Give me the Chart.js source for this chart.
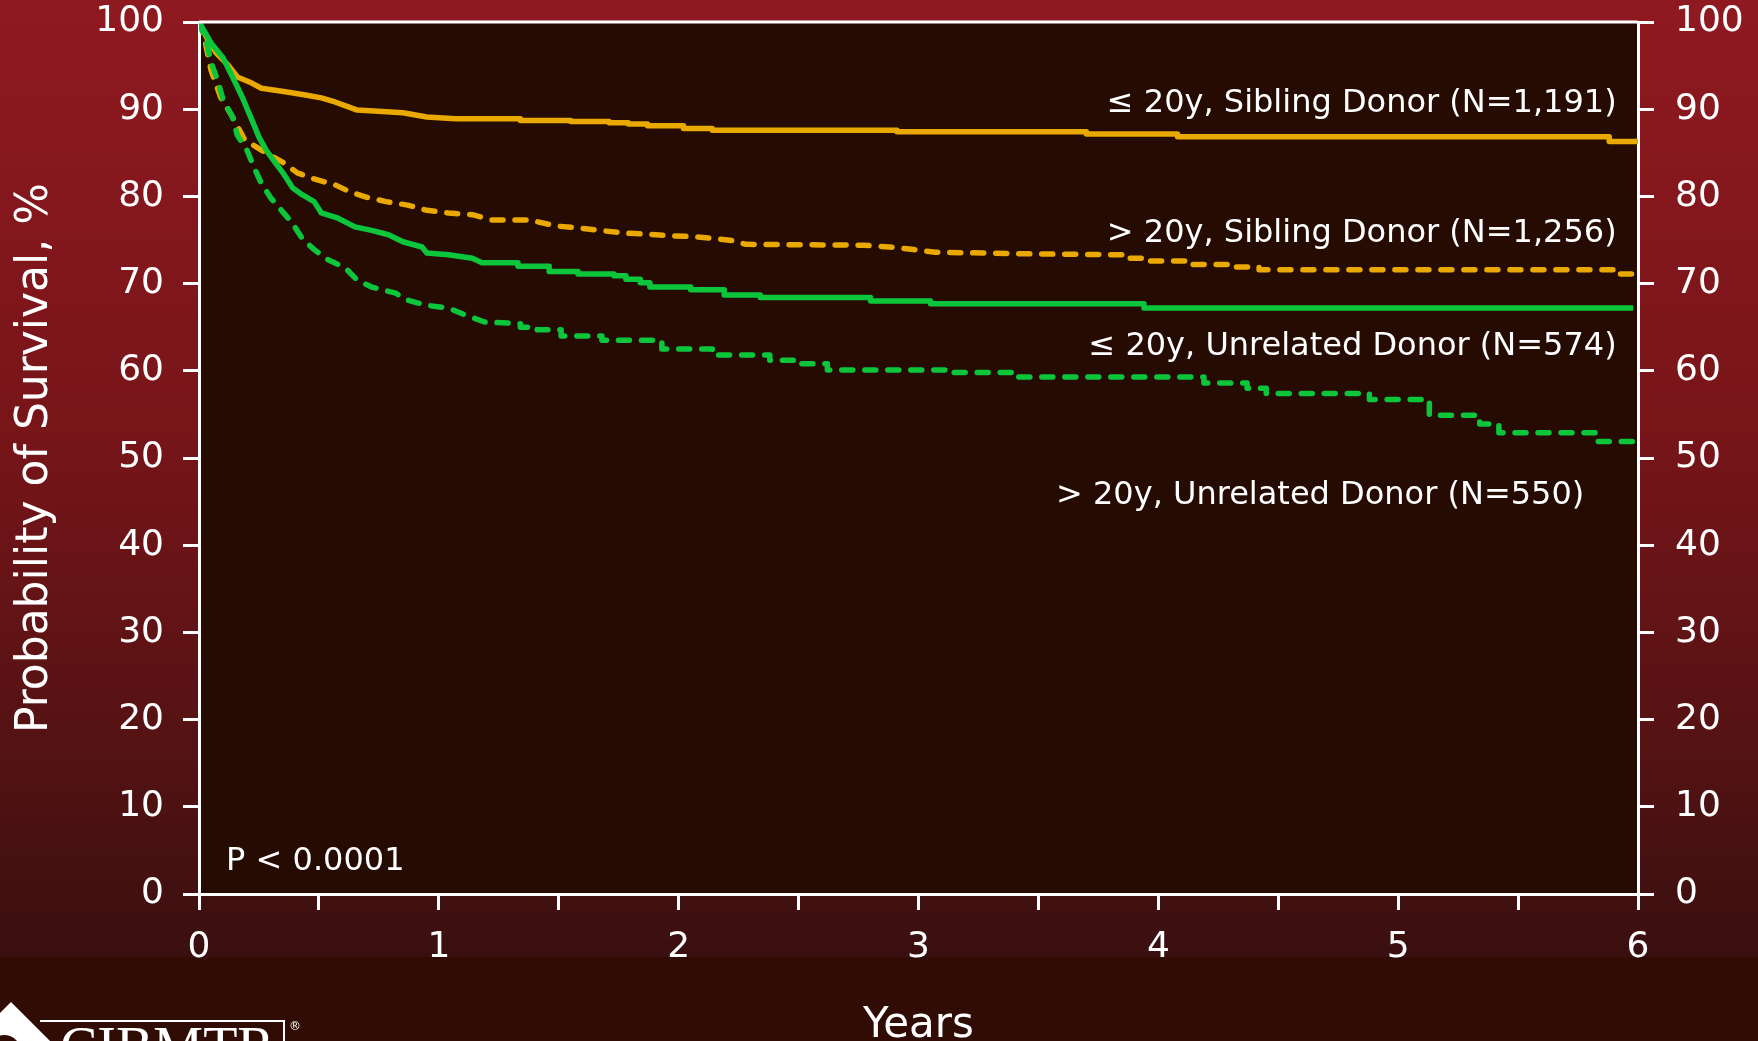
<!DOCTYPE html>
<html>
<head>
<meta charset="utf-8">
<script src="https://cdn.jsdelivr.net/npm/chart.js@4.4.1/dist/chart.umd.min.js"></script>
<style>
  html, body { margin: 0; padding: 0; background: #2f0c05; overflow: hidden; }
  canvas { display: block; }
</style>
</head>
<body>
<canvas id="km" width="1758" height="1041"></canvas>
<script>
// survival, % by years after transplant
const youngSibTime = [0, 0.04, 0.07, 0.12, 0.16, 0.22, 0.26, 0.36, 0.45, 0.51, 0.57, 0.62, 0.66, 0.85, 0.95, 1.07, 1.34, 1.34, 1.55, 1.55, 1.71, 1.71, 1.79, 1.79, 1.87, 1.87, 2.02, 2.02, 2.14, 2.14, 2.91, 2.91, 3.70, 3.70, 4.08, 4.08, 5.88, 5.88, 6.0];
const youngSibSurv = [100, 97.8, 96.5, 95.1, 93.7, 93.0, 92.4, 92.0, 91.6, 91.3, 90.8, 90.3, 89.9, 89.6, 89.1, 88.9, 88.9, 88.7, 88.7, 88.6, 88.6, 88.45, 88.45, 88.3, 88.3, 88.1, 88.1, 87.8, 87.8, 87.6, 87.6, 87.4, 87.4, 87.15, 87.15, 86.85, 86.85, 86.3, 86.3];

const oldSibTime = [0, 0.02, 0.05, 0.09, 0.14, 0.19, 0.26, 0.35, 0.41, 0.48, 0.57, 0.63, 0.70, 0.78, 0.87, 0.95, 1.04, 1.14, 1.22, 1.38, 1.41, 1.49, 1.58, 1.67, 1.77, 1.85, 1.95, 2.05, 2.14, 2.23, 2.28, 2.77, 2.88, 2.98, 3.07, 3.49, 3.87, 3.87, 3.96, 3.96, 4.13, 4.13, 4.31, 4.31, 4.42, 4.42, 5.92, 5.92, 6.0];
const oldSibSurv = [100, 98.5, 94.5, 91.4, 89.1, 86.5, 85.3, 83.9, 82.7, 82.0, 81.3, 80.5, 79.9, 79.4, 79.0, 78.4, 78.1, 77.9, 77.3, 77.3, 77.1, 76.6, 76.4, 76.1, 75.8, 75.7, 75.5, 75.4, 75.2, 74.9, 74.5, 74.4, 74.2, 73.9, 73.6, 73.4, 73.3, 72.9, 72.9, 72.6, 72.6, 72.2, 72.2, 71.9, 71.9, 71.6, 71.6, 71.1, 71.1];

const youngUnrelTime = [0, 0.05, 0.10, 0.14, 0.18, 0.22, 0.25, 0.28, 0.32, 0.35, 0.39, 0.43, 0.48, 0.51, 0.58, 0.65, 0.72, 0.79, 0.85, 0.93, 0.95, 1.04, 1.14, 1.18, 1.33, 1.33, 1.46, 1.46, 1.58, 1.58, 1.73, 1.73, 1.78, 1.78, 1.84, 1.84, 1.88, 1.88, 2.05, 2.05, 2.19, 2.19, 2.34, 2.34, 2.80, 2.80, 3.05, 3.05, 3.94, 3.94, 5.98];
const youngUnrelSurv = [100, 97.6, 95.9, 93.7, 91.4, 88.8, 86.8, 85.3, 83.8, 82.7, 81.0, 80.2, 79.4, 78.1, 77.5, 76.5, 76.1, 75.6, 74.8, 74.2, 73.5, 73.3, 72.9, 72.4, 72.4, 72.0, 72.0, 71.4, 71.4, 71.1, 71.1, 70.9, 70.9, 70.5, 70.5, 70.1, 70.1, 69.6, 69.6, 69.3, 69.3, 68.7, 68.7, 68.4, 68.4, 68.0, 68.0, 67.7, 67.7, 67.2, 67.2];

const oldUnrelTime = [0, 0.03, 0.05, 0.08, 0.10, 0.14, 0.16, 0.20, 0.23, 0.26, 0.30, 0.35, 0.39, 0.43, 0.48, 0.54, 0.61, 0.66, 0.72, 0.82, 0.87, 0.95, 1.04, 1.11, 1.19, 1.34, 1.34, 1.41, 1.41, 1.51, 1.51, 1.68, 1.68, 1.91, 1.91, 1.93, 1.93, 2.14, 2.14, 2.38, 2.38, 2.49, 2.49, 2.62, 2.62, 3.12, 3.12, 3.41, 3.41, 4.19, 4.19, 4.37, 4.37, 4.45, 4.45, 4.88, 4.88, 5.13, 5.13, 5.34, 5.34, 5.42, 5.42, 5.83, 5.83, 6.0];
const oldUnrelSurv = [100, 97.9, 95.4, 93.1, 91.1, 89.1, 87.0, 85.3, 83.3, 81.5, 79.8, 78.2, 76.9, 75.2, 73.9, 72.7, 71.8, 70.4, 69.6, 68.9, 68.1, 67.5, 67.2, 66.4, 65.6, 65.4, 65.0, 65.0, 64.7, 64.7, 64.0, 64.0, 63.5, 63.5, 63.2, 63.2, 62.5, 62.5, 61.8, 61.8, 61.2, 61.2, 60.8, 60.8, 60.1, 60.1, 59.8, 59.8, 59.3, 59.3, 58.6, 58.6, 58.0, 58.0, 57.4, 57.4, 56.7, 56.7, 54.9, 54.9, 53.9, 53.9, 52.9, 52.9, 51.9, 51.9];

// curve labels: text, right end (years), centre (%)
const labelTexts = ['\u2264 20y, Sibling Donor (N=1,191)', '> 20y, Sibling Donor (N=1,256)', '\u2264 20y, Unrelated Donor (N=574)', '> 20y, Unrelated Donor (N=550)'];
const labelEnds = [5.911, 5.911, 5.911, 5.776];
const labelLevels = [91.0, 76.1, 63.2, 46.1];
const pText = 'P < 0.0001';

const ORANGE = '#e9a900';
const GREEN = '#0bc63b';
const WHITE = '#ffffff';
const FONT = 'DejaVu Sans';

const toPoints = (ts, vs) => ts.map((t, i) => ({ x: t, y: vs[i] }));

const curve = (label, ts, vs, color, dashed) => ({
  label,
  data: toPoints(ts, vs),
  borderColor: color,
  borderWidth: 5.5,
  borderDash: dashed ? [11, 12] : [],
  borderCapStyle: dashed ? 'round' : 'butt',
  borderJoinStyle: 'round',
  pointRadius: 0,
  tension: 0,
  fill: false
});

const backdrop = {
  id: 'backdrop',
  beforeDraw(chart) {
    const { ctx, width, height, chartArea: a } = chart;
    ctx.save();
    const g = ctx.createLinearGradient(0, 0, 0, 957);
    g.addColorStop(0, '#8f1920');
    g.addColorStop(0.45, '#771519');
    g.addColorStop(0.8, '#521213');
    g.addColorStop(1, '#3a0f10');
    ctx.fillStyle = g;
    ctx.fillRect(0, 0, width, 957);
    ctx.fillStyle = '#300c05';
    ctx.fillRect(0, 957, width, height - 957);
    ctx.fillStyle = '#260b03';
    ctx.fillRect(a.left, a.top, a.right - a.left, a.bottom - a.top);
    ctx.restore();
  }
};

const notes = {
  id: 'notes',
  afterDraw(chart) {
    const { ctx, chartArea: a, scales: { x, y } } = chart;
    const size = 32;
    ctx.save();
    // top edge of the plot frame
    ctx.strokeStyle = WHITE;
    ctx.lineWidth = 3;
    ctx.beginPath();
    ctx.moveTo(a.left, a.top);
    ctx.lineTo(a.right, a.top);
    ctx.stroke();

    ctx.fillStyle = WHITE;
    ctx.font = `${size}px "${FONT}"`;
    ctx.textBaseline = 'alphabetic';
    ctx.textAlign = 'right';
    labelTexts.forEach((txt, i) => {
      const px = x.getPixelForValue(labelEnds[i]);
      const py = y.getPixelForValue(labelLevels[i]) + size * 0.365;
      ctx.fillText(txt, px, py);
    });
    ctx.textAlign = 'left';
    ctx.fillText(pText, x.getPixelForValue(0.113), y.getPixelForValue(4.13) + size * 0.365);

    // CIBMTR logo, cut off by the bottom edge
    ctx.beginPath();
    ctx.moveTo(11, 1002);
    ctx.lineTo(50, 1041);
    ctx.lineTo(-28, 1041);
    ctx.closePath();
    ctx.fill();
    ctx.fillStyle = '#300c05';
    ctx.beginPath();
    ctx.arc(4, 1052, 17, 0, Math.PI * 2);
    ctx.fill();
    ctx.lineWidth = 2;
    ctx.beginPath();
    ctx.moveTo(40, 1021);
    ctx.lineTo(284, 1021);
    ctx.lineTo(284, 1041);
    ctx.stroke();
    ctx.fillStyle = WHITE;
    ctx.font = '56px "Liberation Serif"';
    ctx.fillText('CIBMTR', 60, 1066);
    ctx.font = '12px "DejaVu Sans"';
    ctx.fillText('\u00ae', 289, 1030);
    ctx.restore();
  }
};

const tickFont = { family: FONT, size: 36 };

const yAxis = (position, width, pad) => ({
  type: 'linear',
  position,
  min: 0,
  max: 100,
  ticks: { stepSize: 10, color: WHITE, font: tickFont, padding: pad },
  grid: { drawOnChartArea: false, drawTicks: true, tickLength: 16, color: WHITE, lineWidth: 3 },
  border: { color: WHITE, width: 3 },
  afterFit: s => { s.width = width; s.paddingTop = 0; s.paddingBottom = 0; }
});

new Chart(document.getElementById('km'), {
  type: 'line',
  data: {
    datasets: [
      curve('\u2264 20y, Unrelated Donor', youngUnrelTime, youngUnrelSurv, GREEN, false),
      curve('> 20y, Unrelated Donor', oldUnrelTime, oldUnrelSurv, GREEN, true),
      curve('\u2264 20y, Sibling Donor', youngSibTime, youngSibSurv, ORANGE, false),
      curve('> 20y, Sibling Donor', oldSibTime, oldSibSurv, ORANGE, true)
    ]
  },
  options: {
    responsive: false,
    animation: false,
    layout: { padding: { top: 22, left: 0, right: 0, bottom: 0 } },
    plugins: { legend: { display: false }, tooltip: { enabled: false } },
    scales: {
      x: {
        type: 'linear',
        position: 'bottom',
        min: 0,
        max: 6,
        ticks: {
          stepSize: 0.5,
          autoSkip: false,
          maxRotation: 0,
          color: WHITE,
          font: tickFont,
          padding: 16,
          callback: v => (v % 1 === 0 ? v : '')
        },
        grid: { drawOnChartArea: false, drawTicks: true, tickLength: 16, color: WHITE, lineWidth: 3 },
        border: { color: WHITE, width: 3 },
        title: { display: true, text: 'Years', color: WHITE, font: { family: FONT, size: 42, lineHeight: 1 }, padding: { top: 0, bottom: -6 } },
        afterFit: s => { s.height = 147; }
      },
      y: {
        ...yAxis('left', 199, 19),
        title: { display: true, text: 'Probability of Survival, %', color: WHITE, font: { family: FONT, size: 44, lineHeight: 1 }, padding: { top: 14, bottom: 0 } }
      },
      y2: yAxis('right', 120, 21)
    }
  },
  plugins: [backdrop, notes]
});
</script>
</body>
</html>
